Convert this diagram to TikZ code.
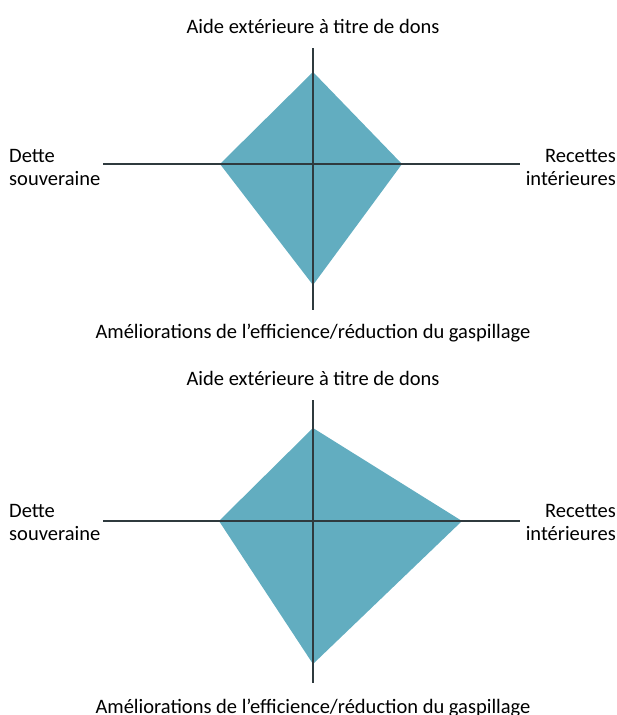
\documentclass[tikz,border=0pt]{standalone}
\usepackage{fontspec}
\setmainfont{Carlito}
\definecolor{teal1}{HTML}{62ADC0}
\definecolor{axisc}{HTML}{2F3A3E}
\begin{document}
\begin{tikzpicture}[x=1pt,y=-1pt,
  axis/.style={draw=axisc,line width=1.2pt},
  lbl/.style={font=\fontsize{20.5}{23}\selectfont,inner sep=0pt,text=black},
  poly/.style={fill=teal1,draw=none}]
\useasboundingbox (0,0) rectangle (617,715);
% top chart
\coordinate (t1) at (313,72);
\coordinate (r1) at (402,164);
\coordinate (b1) at (313,285);
\coordinate (l1) at (220,164);
\fill[poly] (t1) -- (r1) -- (b1) -- (l1) -- cycle;
\coordinate (vt1) at (313,48);
\coordinate (vb1) at (313,310);
\coordinate (hl1) at (103,164);
\coordinate (hr1) at (520,164);
\draw[axis] (vt1) -- (vb1);
\draw[axis] (hl1) -- (hr1);
\node[lbl] (aide1) at (313,26) {Aide extérieure à titre de dons};
\node[lbl,anchor=west,align=left] (dette1) at (9,167) {Dette\\souveraine};
\node[lbl,anchor=east,align=right] (rec1) at (616,167) {Recettes\\intérieures};
\node[lbl] (ame1) at (313,333) {Améliorations de l’efficience/réduction du gaspillage};
% bottom chart
\coordinate (t2) at (313,428);
\coordinate (r2) at (462,521);
\coordinate (b2) at (313,664);
\coordinate (l2) at (219,521);
\fill[poly] (t2) -- (r2) -- (b2) -- (l2) -- cycle;
\coordinate (vt2) at (313,400);
\coordinate (vb2) at (313,683);
\coordinate (hl2) at (103,521);
\coordinate (hr2) at (520,521);
\draw[axis] (vt2) -- (vb2);
\draw[axis] (hl2) -- (hr2);
\node[lbl] (aide2) at (313,378) {Aide extérieure à titre de dons};
\node[lbl,anchor=west,align=left] (dette2) at (9,522) {Dette\\souveraine};
\node[lbl,anchor=east,align=right] (rec2) at (616,522) {Recettes\\intérieures};
\node[lbl] (ame2) at (313,708) {Améliorations de l’efficience/réduction du gaspillage};
\end{tikzpicture}
\end{document}
